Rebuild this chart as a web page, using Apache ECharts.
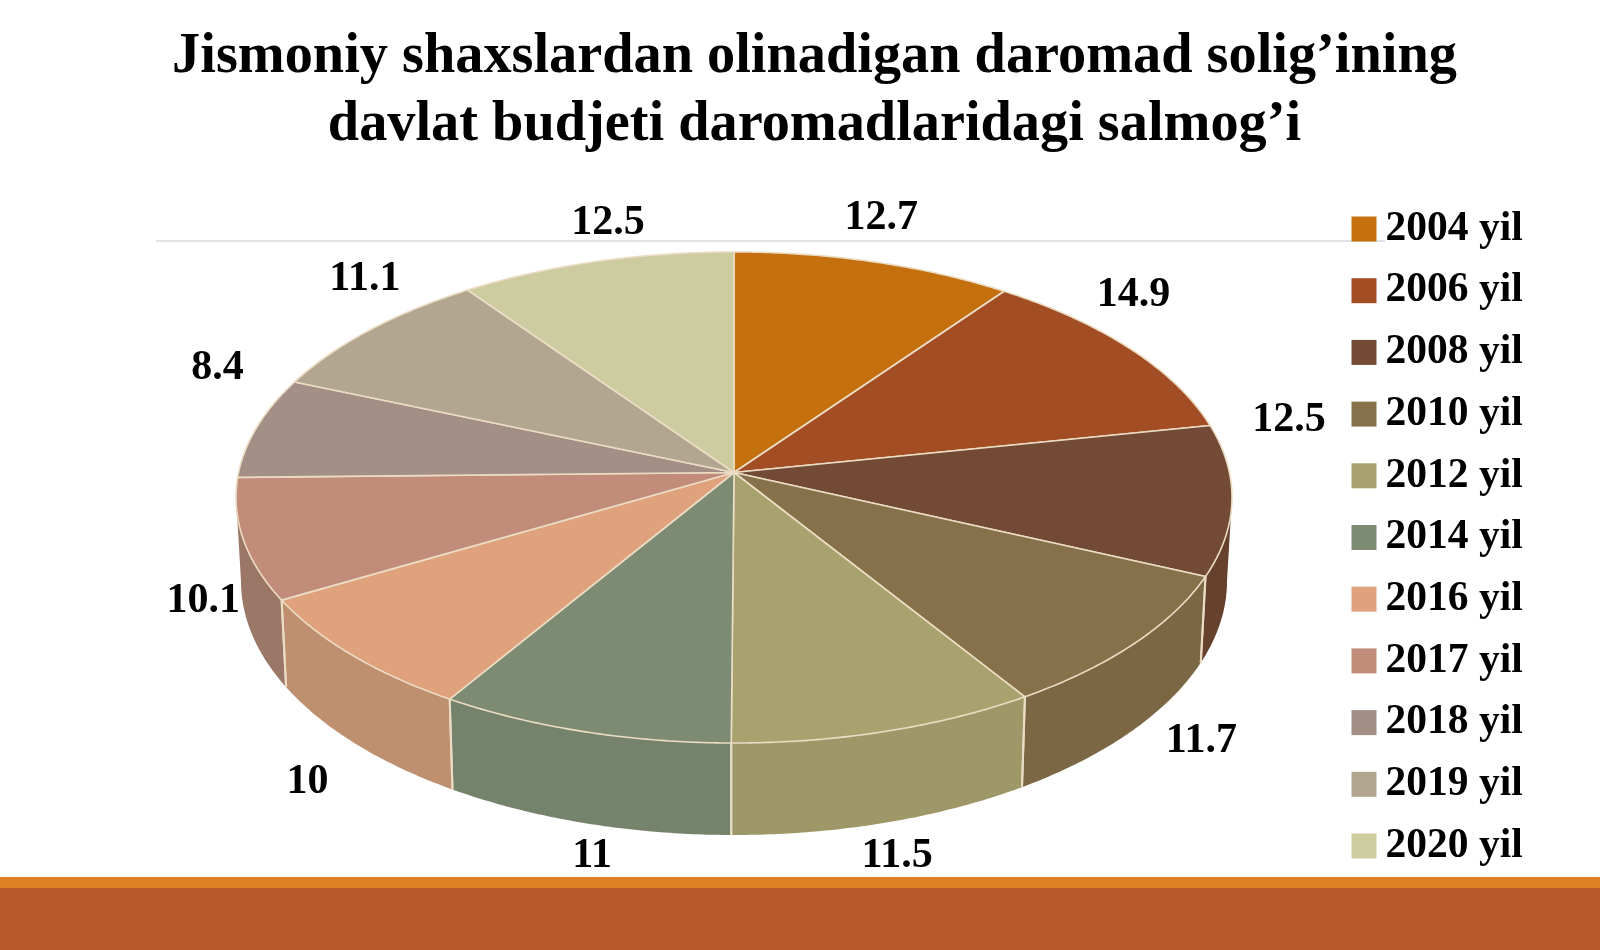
<!DOCTYPE html>
<html><head><meta charset="utf-8">
<style>html,body{margin:0;padding:0;background:#fff}#c{width:1600px;height:950px}</style>
<script src="https://cdn.jsdelivr.net/npm/echarts@6/dist/echarts.min.js"></script>
</head><body><div id="c"></div>
<script>
const titleLines = ['Jismoniy shaxslardan olinadigan daromad solig’ining', 'davlat budjeti daromadlaridagi salmog’i'];
const years = ['2004 yil','2006 yil','2008 yil','2010 yil','2012 yil','2014 yil','2016 yil','2017 yil','2018 yil','2019 yil','2020 yil'];
const values = [12.7,14.9,12.5,11.7,11.5,11,10,10.1,8.4,11.1,12.5];
const colors = ['#C4700F','#A34D24','#724A35','#87714A','#A8A26E','#7E8B73','#DFA27C','#C28C7A','#A38F86','#B3A690','#CDCBA0'];
const wallColors = ['#A8600E','#8C421F','#66412E','#7B6744','#9E9868','#75826C','#BF9070','#9A7766','#8C7B73','#9A8F7C','#B0AE8A'];
// per-label nudges from the projected rim point (layout only)
const labelNudge = [[7,-44],[4,-53],[57,-80],[66,98],[11,125],[9,125],[-44,127],[-40,62],[-39,-60],[-5,-51],[12,-38]];

const total = values.reduce((a,b)=>a+b,0);
const cx = 734, cy = 472.5, rx = 495.4, ry = 243, k = 0.1018, depth = 82.6, shrink = 0.99;
const wallFrom = 95.8, wallTo = 264.2, edge = '#EBDCC4', font = 'bold 42px "Liberation Serif"';
const rad = d => d*Math.PI/180;
const rim = a => { const s=Math.sin(rad(a)), c=Math.cos(rad(a)), d=1+k*c; return [cx+rx*s/d, cy-ry*c/d]; };
const low = a => { const p=rim(a), d=1+k*Math.cos(rad(a)); return [cx+(p[0]-cx)*shrink, p[1]+depth/d]; };
const arc = (a,b,f) => { const pts=[]; const n=Math.max(2,Math.ceil((b-a)/0.5)); for(let i=0;i<=n;i++) pts.push(f(a+(b-a)*i/n)); return pts; };

function sliceRender(i){
  return function(params, api){
    const before = values.slice(0,i).reduce((a,b)=>a+b,0);
    const a0 = before/total*360, a1 = a0 + api.value(0)/total*360, mid = (a0+a1)/2;
    const children = [];
    const w0 = Math.max(a0,wallFrom), w1 = Math.min(a1,wallTo);
    if (w1 > w0) {
      const topArc = arc(w0,w1,rim), lowArc = arc(w0,w1,low);
      children.push({type:'polygon', z2:1, shape:{points:topArc.concat(lowArc.reverse())}, style:{fill:wallColors[i]}});
      if (a0 >= wallFrom) children.push({type:'polyline', z2:2, shape:{points:[rim(a0),low(a0)]}, style:{stroke:edge,lineWidth:2,fill:null}});
      if (a1 <= wallTo) children.push({type:'polyline', z2:2, shape:{points:[rim(a1),low(a1)]}, style:{stroke:edge,lineWidth:2,fill:null}});
    }
    children.push({type:'polygon', z2:3, shape:{points:[[cx,cy]].concat(arc(a0,a1,rim))}, style:{fill:colors[i],stroke:edge,lineWidth:1.6,lineJoin:'round'}});
    const p = rim(mid);
    children.push({type:'text', z2:10, style:{text:String(api.value(0)), x:p[0]+labelNudge[i][0], y:p[1]+labelNudge[i][1], fill:'#000', font:font, align:'center', verticalAlign:'middle'}});
    return {type:'group', children};
  };
}

const chart = echarts.init(document.getElementById('c'), null, {renderer:'canvas'});
chart.setOption({
  animation:false,
  backgroundColor:'#fff',
  title:{text:titleLines.join('\n'), left:809.5, top:18.5, textAlign:'center',
    textStyle:{fontFamily:'"Liberation Serif"', fontWeight:'bold', fontSize:56.3, lineHeight:68, color:'#000'}},
  legend:{orient:'vertical', left:1346.5, top:203, itemWidth:25, itemHeight:25, itemGap:19.7, icon:'rect', data:years, selectedMode:false,
    textStyle:{fontFamily:'"Liberation Serif"', fontWeight:'bold', fontSize:41.5, lineHeight:41, color:'#000', padding:[0,0,0,4]}},
  graphic:[
    {type:'line', z:-1, shape:{x1:156,y1:241,x2:1385,y2:241}, style:{stroke:'#C8C8C8',lineWidth:1.2}},
    {type:'rect', shape:{x:0,y:877,width:1600,height:11}, style:{fill:'#DF8026'}},
    {type:'rect', shape:{x:0,y:888,width:1600,height:62}, style:{fill:'#B85B2A'}}
  ],
  series: years.map((name,i)=>({type:'custom', name, coordinateSystem:'none', silent:true,
    itemStyle:{color:colors[i]}, data:[[values[i]]], renderItem:sliceRender(i)}))
});
</script></body></html>
